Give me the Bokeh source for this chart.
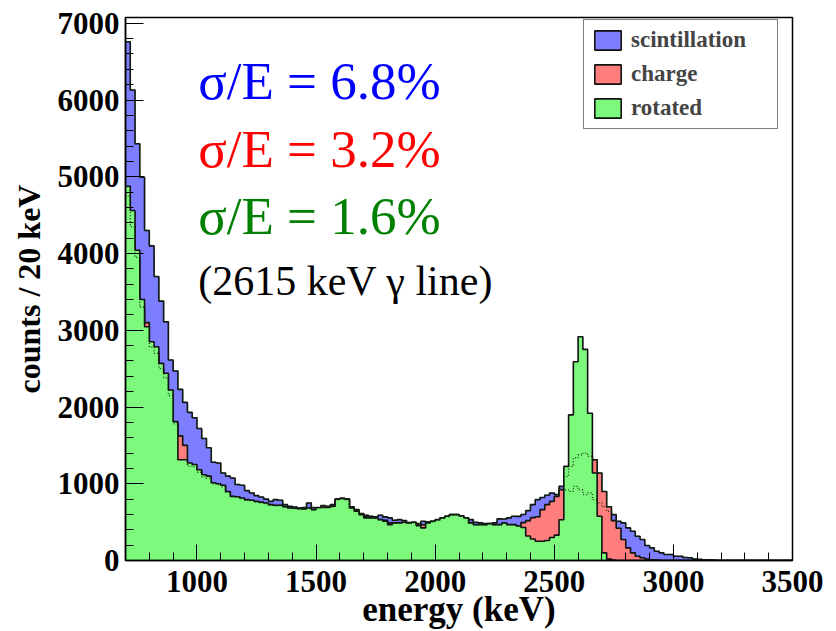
from bokeh.plotting import figure
from bokeh.models import Range1d, FixedTicker, Label, Legend, LegendItem
from bokeh.embed import file_html
from bokeh.resources import INLINE

# ---------------- data (counts per 20 keV bin, bins start at 700 keV) ----------------
bin_start = 700
bin_width = 20

scintillation = [
    6760, 6130, 5430, 4995, 4300, 4100, 3700, 3380, 3110, 2612,
    2470, 2230, 2060, 1930, 1860, 1720, 1590, 1470, 1280, 1270,
    1140, 1100, 1075, 990, 980, 910, 880, 845, 828, 800,
    771, 793, 785, 728, 706, 698, 685, 690, 750, 690,
    685, 695, 700, 728, 800, 810, 805, 700, 663, 611,
    590, 576, 570, 590, 568, 555, 525, 533, 520, 495,
    498, 481, 511, 500, 511, 525, 555, 576, 598, 600,
    581, 555, 533, 498, 490, 481, 481, 490, 542, 540,
    555, 576, 575, 600, 650, 728, 793, 820, 850, 880,
    860, 966, 920, 900, 966, 920, 858, 880, 793, 750,
    700, 640, 598, 511, 490, 425, 381, 316, 273, 195,
    165, 121, 100, 78, 78, 56, 56, 40, 35, 20,
    15, 10, 10, 5, 0, 0, 0, 0, 0, 0,
    0, 0, 0, 0, 0, 0, 0, 0, 0, 0,
]

charge = [
    4750, 4350, 3950, 3300, 3100, 2780, 2700, 2500, 2380, 2150,
    1780, 1624, 1500, 1230, 1220, 1150, 1090, 1070, 1000, 990,
    960, 890, 830, 825, 805, 785, 780, 765, 750, 740,
    720, 712, 715, 695, 680, 676, 672, 670, 680, 660,
    685, 715, 705, 700, 790, 800, 790, 680, 655, 610,
    570, 558, 550, 530, 525, 490, 485, 485, 490, 485,
    490, 475, 465, 505, 505, 525, 550, 570, 590, 590,
    575, 550, 485, 465, 465, 465, 478, 465, 465, 485,
    465, 465, 445, 494, 520, 558, 570, 663, 728, 770,
    836, 923, 1096, 1226, 1338, 1378, 1400, 1356, 1312, 1140,
    900, 700, 520, 420, 273, 165, 100, 56, 35, 20,
    10, 5, 0, 0, 0, 0, 0, 0, 0, 0,
    0, 0, 0, 0, 0, 0, 0, 0, 0, 0,
    0, 0, 0, 0, 0, 0, 0, 0, 0, 0,
]

rotated = [
    4877, 4561, 4042, 3400, 3045, 2850, 2785, 2569, 2439, 2222,
    1810, 1312, 1312, 1270, 1250, 1183, 1118, 1100, 1014, 1000,
    980, 900, 836, 830, 814, 793, 785, 771, 760, 750,
    728, 720, 720, 700, 685, 680, 676, 672, 685, 663,
    690, 690, 690, 706, 800, 810, 800, 685, 641, 598,
    555, 555, 555, 533, 511, 468, 490, 490, 498, 490,
    498, 455, 425, 490, 511, 533, 555, 576, 598, 598,
    581, 555, 490, 468, 468, 468, 481, 468, 468, 490,
    468, 468, 450, 430, 320, 280, 250, 250, 260, 300,
    330, 530, 1226, 1897, 2590, 2915, 2751, 1919, 1140, 576,
    100, 20, 5, 0, 0, 0, 0, 0, 0, 0,
    0, 0, 0, 0, 0, 0, 0, 0, 0, 0,
    0, 0, 0, 0, 0, 0, 0, 0, 0, 0,
    0, 0, 0, 0, 0, 0, 0, 0, 0, 0,
]

labels = ["scintillation", "charge", "rotated"]
fills = ["#7d7dff", "#ff7d7d", "#7dfa7d"]
x_major = [1000, 1500, 2000, 2500, 3000, 3500]
y_major = [0, 1000, 2000, 3000, 4000, 5000, 6000, 7000]

n_bins = len(scintillation)
edges = [bin_start + i * bin_width for i in range(n_bins + 1)]


def step_outline(counts):
    xs, ys = [], []
    for i, c in enumerate(counts):
        xs += [edges[i], edges[i + 1]]
        ys += [c, c]
    return xs, ys


def step_patch(counts):
    xs, ys = step_outline(counts)
    return [edges[0]] + xs + [edges[-1]], [0] + ys + [0]


p = figure(width=836, height=631, x_range=Range1d(700, 3500), y_range=Range1d(0, 7075),
           output_backend="svg", toolbar_location=None, title=None,
           min_border_left=125, min_border_right=44, min_border_top=17, min_border_bottom=70)
p.background_fill_color = "white"
p.border_fill_color = "white"
p.outline_line_color = "black"
p.outline_line_width = 1.5
p.grid.visible = False

renderers = []
for counts, col in zip([scintillation, charge, rotated], fills):
    xs, ys = step_patch(counts)
    r = p.patch(xs, ys, fill_color=col, line_color="#111111", line_width=1.6)
    renderers.append(r)

# outlines of the histograms hidden under later fills show through as dotted lines
for counts in [scintillation, charge]:
    xs, ys = step_outline(counts)
    p.line(xs, ys, line_color="#103010", line_width=1.3, line_dash="1 2")

# axes
for ax in (p.xaxis, p.yaxis):
    ax.axis_line_color = "black"
    ax.axis_line_width = 1.5
    ax.major_tick_out = 0
    ax.minor_tick_in = 8
    ax.minor_tick_out = 0
    ax.major_tick_line_color = "black"
    ax.minor_tick_line_color = "black"
    ax.major_label_text_font = "Liberation Serif"
    ax.major_label_text_font_style = "bold"
    ax.major_label_text_font_size = "31px"
    ax.major_label_text_color = "black"
    ax.axis_label_text_font = "Liberation Serif"
    ax.axis_label_text_font_style = "bold"
    ax.axis_label_text_color = "black"

p.xaxis.major_tick_in = 16
p.yaxis.major_tick_in = 18
p.xaxis.axis_label_text_font_size = "35px"
p.yaxis.axis_label_text_font_size = "32px"
p.xaxis.ticker = FixedTicker(ticks=x_major, minor_ticks=list(range(700, 3501, 100)))
p.yaxis.ticker = FixedTicker(ticks=y_major, minor_ticks=list(range(0, 7001, 200)))
p.xaxis.axis_label = "energy (keV)"
p.yaxis.axis_label = "counts / 20 keV"
p.xaxis.major_label_standoff = 10
p.xaxis.axis_label_standoff = -5
p.yaxis.major_label_standoff = 6
p.yaxis.axis_label_standoff = 8

# annotations
notes = [("σ/E = 6.8%", "#0000ff", 6250, "53px"),
         ("σ/E = 3.2%", "#ff0000", 5367, "53px"),
         ("σ/E = 1.6%", "#008000", 4483, "53px"),
         ("(2615 keV γ line)", "black", 3640, "42px")]
for txt, col, yv, fs in notes:
    p.add_layout(Label(x=1005, y=yv, text=txt, text_color=col, text_font="Liberation Serif",
                       text_font_size=fs, text_baseline="alphabetic", text_align="left"))

legend = Legend(items=[LegendItem(label=l, renderers=[r]) for l, r in zip(labels, renderers)],
                location=(458, 431), orientation="vertical",
                label_text_font="Liberation Serif", label_text_font_style="bold",
                label_text_font_size="23px", glyph_width=33, glyph_height=24,
                label_height=24, label_width=139, spacing=8, padding=7, label_standoff=7,
                border_line_color="black", border_line_width=1.5, background_fill_alpha=1.0,
                margin=0)
p.add_layout(legend)

open("out.html", "w").write(file_html(p, INLINE))
